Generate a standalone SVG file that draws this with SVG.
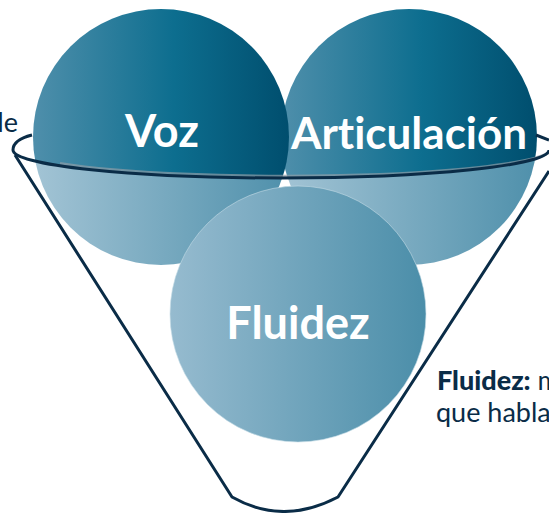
<svg xmlns="http://www.w3.org/2000/svg" width="549" height="513" viewBox="0 0 549 513">
<style>
text{font-variant-ligatures:none}
.line{fill:none;stroke:#0a2c47;stroke-width:3;stroke-linejoin:round}
.lab{font-family:Lato,"Noto Sans",sans-serif;font-weight:700;font-size:45px;fill:#fff;text-anchor:middle}
.cap{font-family:Lato,"Noto Sans",sans-serif;font-size:27px;fill:#0a2c47}
.cap .b{font-weight:900}
</style>
<defs>
<linearGradient id="d1" gradientUnits="userSpaceOnUse" x1="33" y1="0" x2="289" y2="0"><stop offset="0" stop-color="#4f8fab"/><stop offset=".55" stop-color="#0d6e8f"/><stop offset="1" stop-color="#004e6e"/></linearGradient>
<linearGradient id="d2" gradientUnits="userSpaceOnUse" x1="281" y1="0" x2="537" y2="0"><stop offset="0" stop-color="#4f8fab"/><stop offset=".55" stop-color="#0d6e8f"/><stop offset="1" stop-color="#004e6e"/></linearGradient>
<linearGradient id="l1" gradientUnits="userSpaceOnUse" x1="33" y1="0" x2="289" y2="0"><stop offset="0" stop-color="#a3c4d5"/><stop offset="1" stop-color="#4f90ab"/></linearGradient>
<linearGradient id="l2" gradientUnits="userSpaceOnUse" x1="281" y1="0" x2="537" y2="0"><stop offset="0" stop-color="#a3c4d5"/><stop offset="1" stop-color="#4f90ab"/></linearGradient>
<linearGradient id="l3" gradientUnits="userSpaceOnUse" x1="170" y1="0" x2="426" y2="0"><stop offset="0" stop-color="#96bbcf"/><stop offset="1" stop-color="#4b8ea9"/></linearGradient>
<clipPath id="up"><path d="M0 0H549V150A268 28 0 0 1 13 150H0Z"/></clipPath>
<clipPath id="dn"><path d="M0 513H549V150A268 28 0 0 1 13 150H0Z"/></clipPath>
</defs>
<text class="cap" x="18" y="132" text-anchor="end">de</text>
<g id="articulacion">
<circle cx="409" cy="137" r="128" fill="url(#l2)" clip-path="url(#dn)"/>
<circle cx="409" cy="137" r="128" fill="url(#d2)" clip-path="url(#up)"/>
</g>
<g id="voz">
<circle cx="161" cy="137" r="128" fill="url(#l1)" clip-path="url(#dn)"/>
<circle cx="161" cy="137" r="128" fill="url(#d1)" clip-path="url(#up)"/>
</g>
<g id="connectors">
<path d="M60 162A268 28 0 0 0 549 151" fill="none" stroke="#8f9ca6" stroke-width="3" transform="translate(0 1.5)" opacity=".7"/>
<path class="line" d="M32 135C20 138 13 143 13 150A268 28 0 0 0 549 150"/>
<path class="line" d="M536 135L549 140"/>
<path class="line" d="M15 155L232 497Q283 526 338 497L549 171"/>
</g>
<g id="fluidez">
<circle cx="298" cy="314" r="128" fill="url(#l3)" stroke="#c5dbe5" stroke-width=".6"/>
</g>
<text class="lab" x="162" y="147">Voz</text>
<text class="lab" x="409" y="149" style="font-size:44px">Articulación</text>
<text class="lab" x="298" y="339">Fluidez</text>
<text class="cap" x="437" y="390"><tspan class="b">Fluidez:</tspan> m</text>
<text class="cap" x="436" y="422">que habla</text>
</svg>
